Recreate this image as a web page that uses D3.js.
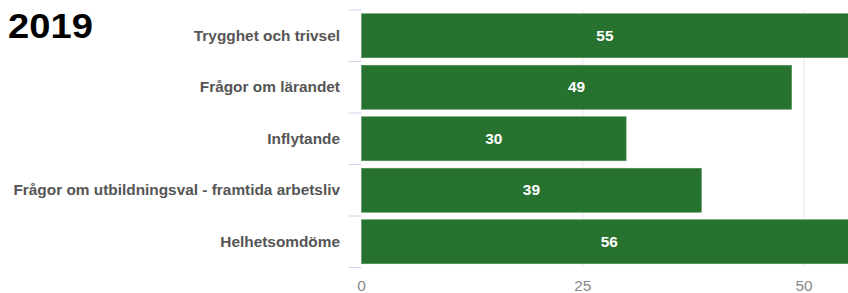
<!DOCTYPE html>
<html>
<head>
<meta charset="utf-8">
<script src="https://cdn.jsdelivr.net/npm/d3@7"></script>
<style>
  body { margin: 0; background: #fff; }
  svg { display: block; font-family: "Liberation Sans", Arial, sans-serif; }
</style>
</head>
<body>
<svg id="chart" width="848" height="293"></svg>
<script>
// chart data
const title = "2019";
const categories = [
  "Trygghet och trivsel",
  "Frågor om lärandet",
  "Inflytande",
  "Frågor om utbildningsval - framtida arbetsliv",
  "Helhetsomdöme"
];
// bar lengths as measured, and the printed labels
const values = [55, 48.6, 29.9, 38.4, 56];
const valueLabels = ["55", "49", "30", "39", "56"];
const xTicks = [0, 25, 50];

const svg = d3.select("#chart");

// the source picture is a little stretched sideways, so text gets a scaleX
const stretch = 1.1;

// scales
const x = d3.scaleLinear().domain([0, 50]).range([361.5, 804]);
const y = d3.scaleBand()
  .domain(categories)
  .range([10, 267.5])
  .paddingInner(0.146)
  .paddingOuter(0.073);

// gridlines
svg.append("g")
  .selectAll("line")
  .data(xTicks.slice(1))
  .join("line")
    .attr("x1", d => x(d)).attr("x2", d => x(d))
    .attr("y1", 10).attr("y2", 267.5)
    .attr("stroke", "#e6e6e6")
    .attr("stroke-width", 1);

// category tick marks at band boundaries
const step = y.step();
const bounds = categories.map(c => y(c) - step * y.paddingInner() / 2);
bounds.push(y.range()[1]);
svg.append("g")
  .selectAll("line")
  .data(bounds)
  .join("line")
    .attr("x1", x(0) - 13).attr("x2", x(0))
    .attr("y1", d => d).attr("y2", d => d)
    .attr("stroke", "#ccd6eb")
    .attr("stroke-width", 1);

// bars
svg.append("g")
  .selectAll("rect")
  .data(values)
  .join("rect")
    .attr("x", x(0))
    .attr("y", (d, i) => y(categories[i]))
    .attr("width", d => x(d) - x(0))
    .attr("height", y.bandwidth())
    .attr("fill", "#28722f")
    .attr("stroke", "#4f8f55")
    .attr("stroke-width", 0.6);

// value labels inside bars
svg.append("g")
  .selectAll("text")
  .data(values)
  .join("text")
    .attr("transform", (d, i) =>
      `translate(${(x(0) + x(d)) / 2},${y(categories[i]) + y.bandwidth() / 2}) scale(${stretch},1)`)
    .attr("dy", "0.36em")
    .attr("text-anchor", "middle")
    .attr("fill", "#fff")
    .attr("font-size", 14)
    .attr("font-weight", "bold")
    .text((d, i) => valueLabels[i]);

// category labels
svg.append("g")
  .selectAll("text")
  .data(categories)
  .join("text")
    .attr("transform", d => `translate(340,${y(d) + y.bandwidth() / 2}) scale(${stretch},1)`)
    .attr("dy", "0.36em")
    .attr("text-anchor", "end")
    .attr("fill", "#555")
    .attr("font-size", 14)
    .attr("font-weight", "bold")
    .text(d => d);

// x tick labels
svg.append("g")
  .selectAll("text")
  .data(xTicks)
  .join("text")
    .attr("transform", d => `translate(${x(d)},291) scale(${stretch},1)`)
    .attr("text-anchor", "middle")
    .attr("fill", "#888")
    .attr("font-size", 14)
    .text(d => d);

// title
svg.append("text")
  .attr("transform", `translate(8,38) scale(1.09,1)`)
  .attr("fill", "#000")
  .attr("font-size", 35)
  .attr("font-weight", "bold")
  .text(title);
</script>
</body>
</html>
